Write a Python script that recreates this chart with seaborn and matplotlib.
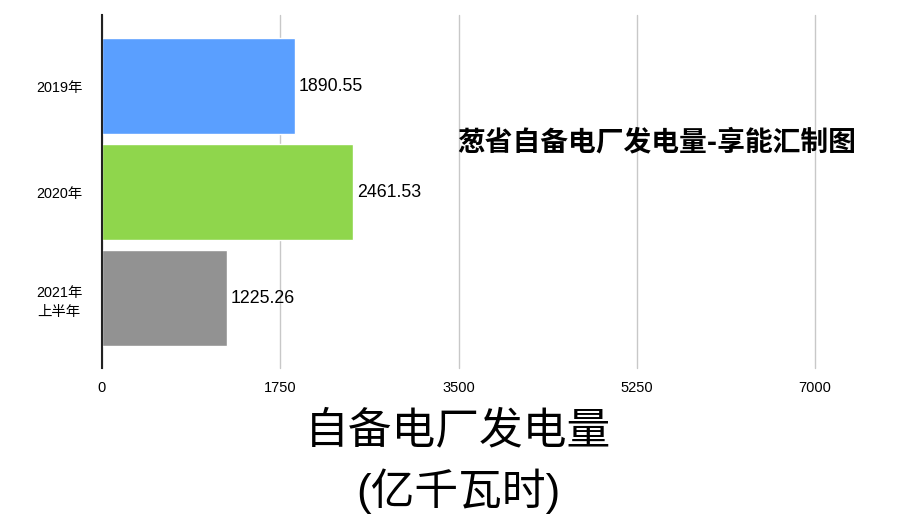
import matplotlib
matplotlib.use('Agg')
import matplotlib.pyplot as plt
import pandas as pd
import seaborn as sns

# 数据
years = ['2019年', '2020年', '2021年\n上半年']
power = [1890.55, 2461.53, 1225.26]
bar_colors = ['#5a9fff', '#8fd64c', '#929292']
x_ticks = [0, 1750, 3500, 5250, 7000]

sns.set_style('white')
plt.rcParams['font.family'] = ['Liberation Sans', 'Noto Sans CJK SC', 'DejaVu Sans']
plt.rcParams['text.color'] = 'black'
plt.rcParams['xtick.color'] = 'black'
plt.rcParams['ytick.color'] = 'black'
plt.rcParams['axes.labelcolor'] = 'black'

df = pd.DataFrame({'year': years, 'power': power})

fig = plt.figure(figsize=(9.14, 5.28), dpi=100)
ax = fig.add_axes([102 / 914, 1 - 368 / 528, (815 - 102) / 914, (368 - 15) / 528])

sns.barplot(data=df, x='power', y='year', hue='year', palette=bar_colors,
            orient='h', width=0.905, legend=False, ax=ax, saturation=1)

ax.set_xlim(0, 7000)
ax.set_ylim(2.66, -0.67)
ax.set_xticks(x_ticks)
ax.set_xticklabels([str(t) for t in x_ticks], fontsize=10.5)
ax.tick_params(axis='y', labelsize=10.4, length=0, pad=31)
for lab in ax.get_yticklabels():
    lab.set_horizontalalignment('center')
    lab.set_multialignment('center')
    lab.set_linespacing(1.5)
ax.tick_params(axis='x', length=0, pad=9)
ax.xaxis.grid(True, color='#c8c8c8', linewidth=1)
for gl in ax.get_xgridlines():
    gl.set_clip_on(False)
ax.set_axisbelow(True)
for s in ['top', 'right', 'bottom']:
    ax.spines[s].set_visible(False)
ax.spines['left'].set_color('#222222')
ax.spines['left'].set_linewidth(1.5)
ax.set_ylabel('')
ax.set_xlabel('自备电厂发电量\n(亿千瓦时)', fontsize=31.5, linespacing=1.45, labelpad=12)

# 数值标签
for i, v in enumerate(power):
    ax.text(v + 40, i, f'{v:.2f}', va='center', ha='left', fontsize=12.8)

fig.text(457 / 914, 1 - 142 / 528, '葱省自备电厂发电量-享能汇制图',
         fontsize=20, fontweight='bold', va='center', ha='left',
         family=['Noto Sans CJK SC', 'DejaVu Sans'])

plt.savefig('out.png', dpi=100)
